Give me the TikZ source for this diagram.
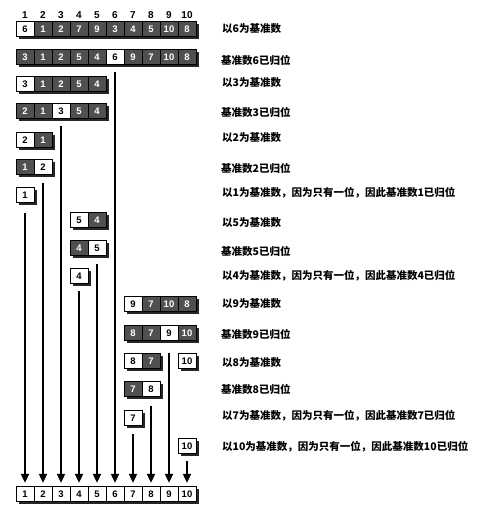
\documentclass[tikz,border=0pt]{standalone}
\usepackage{fontspec}
\setmainfont{Liberation Sans}
\newfontfamily\cjk{Noto Sans CJK SC}
\usetikzlibrary{arrows.meta,shadows}
\definecolor{cellgray}{HTML}{505050}
\definecolor{shadowgray}{HTML}{262626}
\tikzset{
 cell/.style={draw=black, line width=0.8pt, minimum width=18pt, minimum height=14.5pt, inner sep=0pt,
   font=\fontsize{9.5}{10}\selectfont\bfseries,
   drop shadow={shadow xshift=2.5pt, shadow yshift=-2.5pt, fill=shadowgray, opacity=1}},
 dark/.style={cell, fill=cellgray, text=white},
 light/.style={cell, fill=white, text=black},
 hdr/.style={font=\fontsize{10}{11}\selectfont\bfseries, inner sep=0pt},
 note/.style={anchor=west, inner sep=0pt, font=\cjk\bfseries\fontsize{10.5}{12}\selectfont},
 arr/.style={line width=1.8pt, -{Triangle[length=9pt,width=8pt]}, shorten >=3.5pt},
}
\newcommand\cellrow[4]{%
 \foreach \vv/\ss [count=\kk from 0] in {#4} {
   \pgfmathsetmacro\colidx{int(#3+\kk)}
   \node[\ss] (r#1c\colidx) at ({25+18*(\colidx-1)}, #2) {\vv};
 }}
\begin{document}
\begin{tikzpicture}[x=1pt,y=-1pt]
\fill[white] (0,0) rectangle (481,514);
\useasboundingbox (0,0) rectangle (481,514);
% header
\foreach \i in {1,...,10} \node[hdr] (h\i) at ({25+18*(\i-1)},15) {\i};
% rows
\cellrow{1}{29}{1}{6/light,1/dark,2/dark,7/dark,9/dark,3/dark,4/dark,5/dark,10/dark,8/dark}
\cellrow{2}{57}{1}{3/dark,1/dark,2/dark,5/dark,4/dark,6/light,9/dark,7/dark,10/dark,8/dark}
\cellrow{3}{84}{1}{3/light,1/dark,2/dark,5/dark,4/dark}
\cellrow{4}{111}{1}{2/dark,1/dark,3/light,5/dark,4/dark}
\cellrow{5}{140}{1}{2/light,1/dark}
\cellrow{6}{167}{1}{1/dark,2/light}
\cellrow{7}{195}{1}{1/light}
\cellrow{8}{220}{4}{5/light,4/dark}
\cellrow{9}{248}{4}{4/dark,5/light}
\cellrow{10}{276}{4}{4/light}
\cellrow{11}{304}{7}{9/light,7/dark,10/dark,8/dark}
\cellrow{12}{333}{7}{8/dark,7/dark,9/light,10/dark}
\cellrow{13}{361}{7}{8/light,7/dark}
\cellrow{13b}{361}{10}{10/light}
\cellrow{14}{389}{7}{7/dark,8/light}
\cellrow{15}{418}{7}{7/light}
\cellrow{16}{446}{10}{10/light}
\cellrow{f}{494}{1}{1/light,2/light,3/light,4/light,5/light,6/light,7/light,8/light,9/light,10/light}
% arrows
\draw[arr, shorten <=10pt] (r7c1.south) -- (rfc1.north);
\draw[arr, shorten <=8pt] (r6c2.south) -- (rfc2.north);
\draw[arr, shorten <=7pt] (r4c3.south) -- (rfc3.north);
\draw[arr, shorten <=7pt] (r10c4.south) -- (rfc4.north);
\draw[arr, shorten <=8pt] (r9c5.south) -- (rfc5.north);
\draw[arr, shorten <=7pt] (r2c6.south) -- (rfc6.north);
\draw[arr, shorten <=8pt] (r15c7.south) -- (rfc7.north);
\draw[arr, shorten <=9pt] (r14c8.south) -- (rfc8.north);
\draw[arr, shorten <=12pt] (r12c9.south) -- (rfc9.north);
\draw[arr, shorten <=7pt] (r16c10.south) -- (rfc10.north);
% notes
\node[note] (t1) at (222,29) {以6为基准数};
\node[note] (t2) at (221,60) {基准数6已归位};
\node[note] (t3) at (222,83) {以3为基准数};
\node[note] (t4) at (221,112) {基准数3已归位};
\node[note] (t5) at (222,138) {以2为基准数};
\node[note] (t6) at (221,168) {基准数2已归位};
\node[note] (t7) at (222,193) {以1为基准数，因为只有一位，因此基准数1已归位};
\node[note] (t8) at (222,223) {以5为基准数};
\node[note] (t9) at (221,251) {基准数5已归位};
\node[note] (t10) at (222,276) {以4为基准数，因为只有一位，因此基准数4已归位};
\node[note] (t11) at (222,304) {以9为基准数};
\node[note] (t12) at (221,334) {基准数9已归位};
\node[note] (t13) at (222,363) {以8为基准数};
\node[note] (t14) at (221,389) {基准数8已归位};
\node[note] (t15) at (222,416) {以7为基准数，因为只有一位，因此基准数7已归位};
\node[note] (t16) at (222,447) {以10为基准数，因为只有一位，因此基准数10已归位};
\end{tikzpicture}
\end{document}
